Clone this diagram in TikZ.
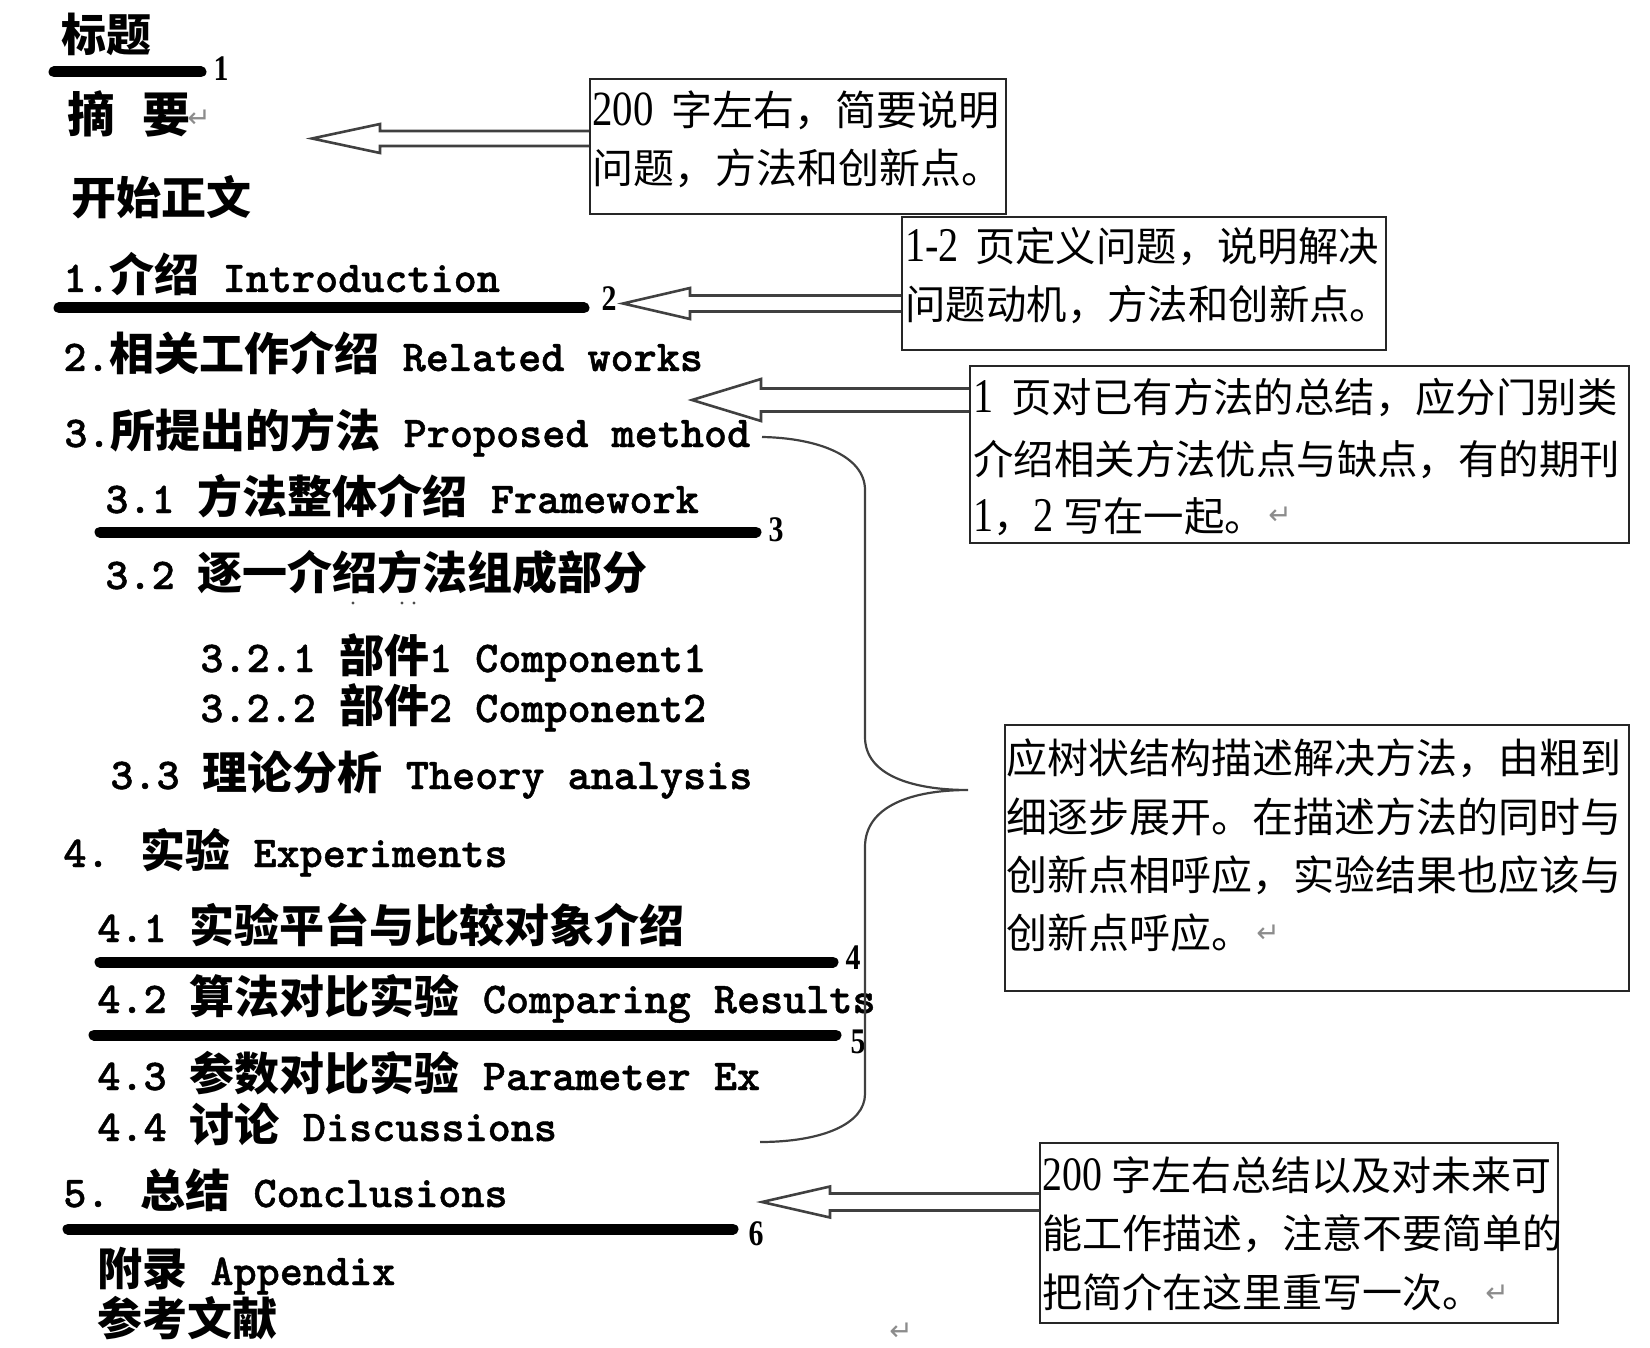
\documentclass[tikz,border=0pt]{standalone}
\usepackage{fontspec}
\setmainfont{Noto Sans CJK SC}
\newfontfamily\tnr[FakeStretch=0.83,Scale=1.2]{Liberation Serif}
\newfontfamily\djv{DejaVu Sans}
\newfontfamily\lmttb[FakeBold=1]{lmmonolt10-bold.otf}
\usetikzlibrary{calc}
\newcommand\M[1]{{\lmttb\fontsize{22}{27}\selectfont #1}}
\newcommand\D[1]{{\tnr #1}}
\newcommand\hollowarrow[6]{% #1 start coord, #2 tip coord, #3 head half, #4 shaft half, #5 head length
  \draw[hollow] ($(#1)+(0,-#4)$) -- ($(#2)+(#5,-#4)$) -- ($(#2)+(#5,-#3)$) -- (#2)
    -- ($(#2)+(#5,#3)$) -- ($(#2)+(#5,#4)$) -- ($(#1)+(0,#4)$);}
\begin{document}
\begin{tikzpicture}[x=0.5pt,y=-0.5pt,
  lefttext/.style={anchor=base west,inner sep=0pt,font=\fontsize{22.5}{27}\selectfont\bfseries},
  boxtext/.style={anchor=base west,inner sep=0pt,font=\fontsize{20.2}{24}\selectfont},
  notebox/.style={draw=black!85,line width=1.1pt,inner sep=0pt,anchor=north west},
  rulebar/.style={line width=5.5pt,line cap=round},
  barnum/.style={inner sep=0pt,font=\fontsize{15}{16}\selectfont\tnr\bfseries},
  retmark/.style={inner sep=0pt,text=black!45,font=\fontsize{14}{14}\selectfont\djv},
  hollow/.style={draw=black!75,line width=1.3pt,line join=miter},
  bracket/.style={draw=black!75,line width=1.1pt}
]
\useasboundingbox (0,0) rectangle (1650,1348);

% ---------------- left column ----------------
\node[lefttext] (ttitle) at (61,52) {标题};
\node[lefttext,font=\fontsize{24}{28}\selectfont\bfseries] (tabs) at (67,133) {摘\hspace{13.5pt}要};
\node[retmark] (rabs) at (199,119) {↵};
\node[lefttext] (tbody) at (71,215) {开始正文};
\node[lefttext] (ts1) at (63,292) {\M{1.}介绍\M{ Introduction}};
\node[lefttext] (ts2) at (63,371) {\M{2.}相关工作介绍\M{ Related works}};
\node[lefttext] (ts3) at (64,447) {\M{3.}所提出的方法\M{ Proposed method}};
\node[lefttext] (ts31) at (105,513) {\M{3.1 }方法整体介绍\M{ Framework}};
\node[lefttext] (ts32) at (105,589) {\M{3.2 }逐一介绍方法组成部分};
\node[lefttext] (ts321) at (200,672) {\M{3.2.1 }部件\M{1 Component1}};
\node[lefttext] (ts322) at (200,722) {\M{3.2.2 }部件\M{2 Component2}};
\node[lefttext] (ts33) at (110,789) {\M{3.3 }理论分析\M{ Theory analysis}};
\node[lefttext] (ts4) at (63,867) {\M{4. }实验\M{ Experiments}};
\node[lefttext] (ts41) at (97,942) {\M{4.1 }实验平台与比较对象介绍};
\node[lefttext] (ts42) at (97,1013) {\M{4.2 }算法对比实验\M{ Comparing Results}};
\node[lefttext] (ts43) at (97,1090) {\M{4.3 }参数对比实验\M{ Parameter Ex}};
\node[lefttext] (ts44) at (97,1141) {\M{4.4 }讨论\M{ Discussions}};
\node[lefttext] (ts5) at (63,1207) {\M{5. }总结\M{ Conclusions}};
\node[lefttext] (tapp) at (97,1285) {附录\M{ Appendix}};
\node[lefttext] (tref) at (97,1335) {参考文献};
\node[retmark] (rend) at (901,1332) {↵};

% tiny dots under 3.2
\fill[black!70] (353,603) circle (1.6) (402,603) circle (1.6) (414,603) circle (1.6);

% ---------------- bars with numbers ----------------
\coordinate (r1a) at (54,72);   \coordinate (r1b) at (201,72);
\coordinate (r2a) at (59,308);  \coordinate (r2b) at (584,308);
\coordinate (r3a) at (100,532); \coordinate (r3b) at (756,532);
\coordinate (r4a) at (100,962); \coordinate (r4b) at (833,962);
\coordinate (r5a) at (94,1035); \coordinate (r5b) at (836,1035);
\coordinate (r6a) at (68,1229); \coordinate (r6b) at (733,1229);
\draw[rulebar] (r1a) -- (r1b);
\draw[rulebar] (r2a) -- (r2b);
\draw[rulebar] (r3a) -- (r3b);
\draw[rulebar] (r4a) -- (r4b);
\draw[rulebar] (r5a) -- (r5b);
\draw[rulebar] (r6a) -- (r6b);
\node[barnum] (n1) at (221,69) {1};
\node[barnum] (n2) at (609,299) {2};
\node[barnum] (n3) at (776,530) {3};
\node[barnum] (n4) at (853,958) {4};
\node[barnum] (n5) at (858,1042) {5};
\node[barnum] (n6) at (756,1234) {6};

% ---------------- note boxes ----------------
\node[notebox,minimum width=208pt,minimum height=67.5pt] (b1) at (589,78) {};
\node[notebox,minimum width=242pt,minimum height=66.5pt] (b2) at (901,216) {};
\node[notebox,minimum width=329.5pt,minimum height=88.5pt] (b3) at (969,365) {};
\node[notebox,minimum width=312pt,minimum height=133pt] (b4) at (1004,724) {};
\node[notebox,minimum width=259pt,minimum height=90pt] (b5) at (1039,1142) {};

\node[boxtext,font=\fontsize{20.5}{24}\selectfont] (b1l1) at (592,126) {\D{200}\hspace{9pt}字左右，简要说明};
\node[boxtext,font=\fontsize{20.5}{24}\selectfont] (b1l2) at (592,184) {问题，方法和创新点。};

\node[boxtext] (b2l1) at (905,262) {\D{1-2}\hspace{8pt}页定义问题，说明解决};
\node[boxtext] (b2l2) at (905,320) {问题动机，方法和创新点。};

\node[boxtext] (b3l1) at (973,413) {\D{1}\hspace{9pt}页对已有方法的总结，应分门别类};
\node[boxtext] (b3l2) at (973,474) {介绍相关方法优点与缺点，有的期刊};
\node[boxtext] (b3l3) at (973,531) {\D{1}，\D{2} 写在一起。};
\node[retmark] (r3) at (1280,516) {↵};

\node[boxtext,font=\fontsize{20.5}{24}\selectfont] (b4l1) at (1006,773) {应树状结构描述解决方法，由粗到};
\node[boxtext,font=\fontsize{20.5}{24}\selectfont] (b4l2) at (1006,832) {细逐步展开。在描述方法的同时与};
\node[boxtext,font=\fontsize{20.5}{24}\selectfont] (b4l3) at (1006,890) {创新点相呼应，实验结果也应该与};
\node[boxtext,font=\fontsize{20.5}{24}\selectfont] (b4l4) at (1006,948) {创新点呼应。};
\node[retmark] (r4) at (1268,934) {↵};

\node[boxtext,font=\fontsize{20}{24}\selectfont] (b5l1) at (1042,1190) {\D{200} 字左右总结以及对未来可};
\node[boxtext,font=\fontsize{20}{24}\selectfont] (b5l2) at (1042,1248) {能工作描述，注意不要简单的};
\node[boxtext,font=\fontsize{20}{24}\selectfont] (b5l3) at (1042,1307) {把简介在这里重写一次。};
\node[retmark] (r5) at (1497,1294) {↵};

% ---------------- hollow arrows ----------------
\coordinate (t1) at (312,138.5);
\coordinate (t2) at (623,303.5);
\coordinate (t3) at (692,400);
\coordinate (t5) at (762,1202);
\coordinate (s1) at (b1.west |- t1);
\coordinate (s2) at (b2.west |- t2);
\coordinate (s3) at (b3.west |- t3);
\coordinate (s5) at (b5.west |- t5);
\hollowarrow{s1}{t1}{14.5}{7.5}{68}{}
\hollowarrow{s2}{t2}{15.5}{8}{67}{}
\hollowarrow{s3}{t3}{21}{11.5}{69}{}
\hollowarrow{s5}{t5}{15.5}{8.5}{68}{}

% ---------------- brace ----------------
\coordinate (ca) at (762,437);
\coordinate (cm) at (968,790);
\coordinate (cz) at (760,1142);
\draw[bracket] (ca) .. controls (818,438) and (865,456) .. (865,490)
  -- (865,737) .. controls (865,775) and (912,790) .. (cm)
  .. controls (912,790) and (865,806) .. (865,847)
  -- (865,1094) .. controls (865,1124) and (822,1142) .. (cz);
\end{tikzpicture}
\end{document}
